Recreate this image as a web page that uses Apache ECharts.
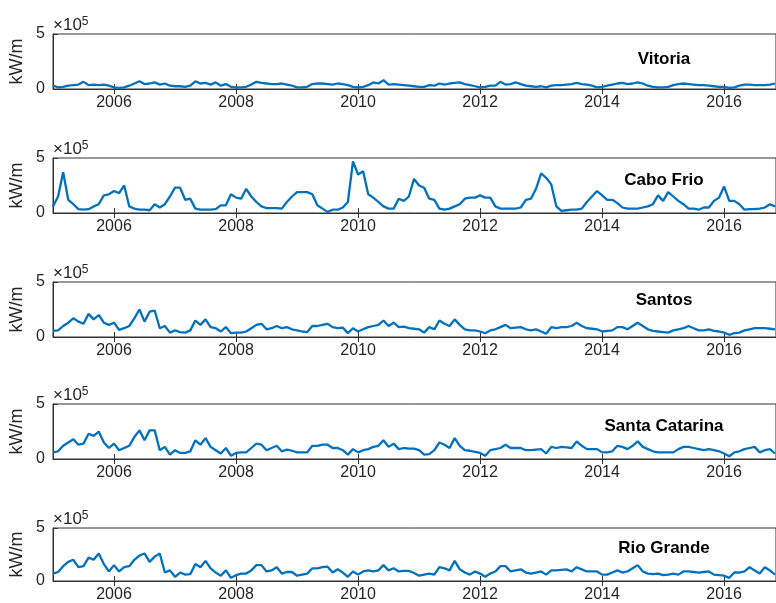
<!DOCTYPE html>
<html><head><meta charset="utf-8">
<script src="https://cdn.jsdelivr.net/npm/echarts@6/dist/echarts.min.js"></script>
<style>html,body{margin:0;padding:0;background:#fff}#c{width:776px;height:603px}</style>
</head><body><div id="c"></div>
<script>
// ---- data (values in units of 1e5 kW/m, monthly from Jan 2005) ----
const startYear = 2005;
const xTickYears = [2006, 2008, 2010, 2012, 2014, 2016];
const yTicks = [0, 5];
const yExponent = '5';
const yUnit = 'kW/m';
const stations = ['Vitoria', 'Cabo Frio', 'Santos', 'Santa Catarina', 'Rio Grande'];

const vitoria = [
  0.3,0.15,0.2,0.3,0.35,0.4,0.65,0.35,0.4,0.35,0.4,0.3,
  0.15,0.1,0.15,0.3,0.5,0.7,0.45,0.5,0.6,0.4,0.5,0.3,
  0.25,0.25,0.2,0.3,0.7,0.5,0.55,0.4,0.6,0.3,0.45,0.2,
  0.15,0.15,0.2,0.4,0.65,0.55,0.5,0.45,0.45,0.5,0.4,0.3,
  0.15,0.15,0.2,0.45,0.5,0.5,0.45,0.4,0.5,0.45,0.35,0.2,
  0.15,0.2,0.35,0.6,0.5,0.8,0.4,0.45,0.4,0.35,0.3,0.25,
  0.2,0.2,0.35,0.3,0.5,0.4,0.5,0.55,0.6,0.45,0.35,0.25,
  0.15,0.2,0.3,0.3,0.65,0.4,0.45,0.6,0.45,0.3,0.25,0.2,
  0.25,0.15,0.3,0.35,0.35,0.4,0.45,0.55,0.45,0.4,0.3,0.15,
  0.2,0.3,0.4,0.5,0.55,0.45,0.5,0.6,0.5,0.3,0.2,0.15,
  0.15,0.2,0.35,0.45,0.5,0.45,0.4,0.35,0.35,0.3,0.25,0.2,
  0.2,0.1,0.15,0.3,0.4,0.4,0.35,0.35,0.35,0.4,0.5
];
const caboFrio = [
  0.6,1.5,3.7,1.2,0.8,0.35,0.3,0.35,0.6,0.8,1.6,1.7,
  2.0,1.8,2.5,0.6,0.4,0.3,0.3,0.25,0.8,0.5,0.8,1.5,
  2.3,2.3,1.2,1.3,0.4,0.3,0.3,0.3,0.35,0.7,0.7,1.7,
  1.4,1.3,2.2,1.5,1.0,0.6,0.45,0.45,0.45,0.4,1.0,1.5,
  1.9,1.9,1.9,1.7,0.7,0.4,0.1,0.3,0.3,0.5,1.0,4.7,
  3.5,3.8,1.7,1.4,1.0,0.6,0.4,0.4,1.3,1.1,1.5,3.1,
  2.5,2.3,1.3,1.2,0.4,0.3,0.4,0.6,0.8,1.3,1.4,1.4,
  1.6,1.4,1.4,0.6,0.4,0.4,0.4,0.4,0.5,1.2,1.3,2.2,
  3.6,3.2,2.6,0.6,0.2,0.25,0.3,0.3,0.4,1.0,1.5,2.0,
  1.6,1.2,1.2,0.9,0.5,0.4,0.4,0.4,0.5,0.6,0.8,1.6,
  1.1,1.9,1.5,1.1,0.8,0.4,0.4,0.3,0.5,0.5,1.1,1.4,
  2.4,1.1,1.1,0.8,0.3,0.35,0.35,0.4,0.5,0.8,0.6
];
const santos = [
  0.55,0.6,1.0,1.3,1.7,1.4,1.2,2.1,1.6,2.0,1.3,1.1,
  1.3,0.65,0.8,1.0,1.7,2.5,1.4,2.3,2.4,0.8,1.0,0.4,
  0.6,0.45,0.4,0.6,1.5,1.1,1.6,0.9,0.8,0.5,0.9,0.35,
  0.4,0.4,0.5,0.8,1.1,1.2,0.7,0.8,1.0,0.8,0.9,0.7,
  0.6,0.5,0.45,1.0,1.0,1.1,1.2,0.9,0.8,0.85,0.35,0.8,
  0.5,0.7,0.9,1.0,1.1,1.5,1.0,1.3,0.9,0.95,0.8,0.75,
  0.7,0.4,0.9,0.7,1.5,1.2,1.0,1.6,1.1,0.7,0.6,0.6,
  0.5,0.35,0.6,0.7,0.9,1.1,0.8,0.85,0.9,0.7,0.6,0.7,
  0.5,0.3,0.9,0.8,0.9,0.9,1.0,1.3,1.0,0.8,0.75,0.7,
  0.5,0.55,0.6,0.9,0.9,0.7,1.0,1.3,1.0,0.7,0.55,0.5,
  0.45,0.4,0.6,0.7,0.8,1.0,0.8,0.6,0.6,0.7,0.55,0.5,
  0.4,0.2,0.35,0.4,0.6,0.7,0.8,0.8,0.8,0.75,0.7
];
const santaCatarina = [
  0.6,0.7,1.2,1.5,1.8,1.3,1.4,2.3,2.1,2.5,1.5,1.0,
  1.4,0.8,1.0,1.2,2.0,2.6,1.7,2.6,2.6,0.8,1.1,0.4,
  0.8,0.55,0.55,0.7,1.7,1.3,1.9,1.1,0.8,0.5,1.0,0.3,
  0.55,0.6,0.6,1.0,1.4,1.3,0.8,1.0,1.2,0.7,0.85,0.75,
  0.6,0.6,0.6,1.2,1.2,1.3,1.3,1.0,1.0,0.8,0.4,0.9,
  0.6,0.8,0.9,1.1,1.2,1.7,1.1,1.4,0.9,1.0,0.95,0.95,
  0.8,0.4,0.45,0.8,1.5,1.3,1.0,1.9,1.2,0.8,0.75,0.65,
  0.55,0.3,0.8,0.9,1.0,1.3,1.0,1.0,1.0,0.8,0.8,0.85,
  0.9,0.5,1.1,1.0,1.1,1.05,1.0,1.6,1.2,0.9,0.9,0.9,
  0.6,0.6,0.7,1.2,1.1,0.9,1.2,1.6,1.1,0.9,0.7,0.6,
  0.6,0.6,0.6,0.9,1.1,1.1,1.0,0.9,0.8,0.9,0.8,0.7,
  0.5,0.25,0.6,0.7,0.9,1.0,1.1,0.6,0.8,0.9,0.5
];
const rioGrande = [
  0.7,0.85,1.4,1.8,2.0,1.3,1.4,2.2,2.0,2.6,1.6,0.9,
  1.5,0.9,1.3,1.4,2.0,2.4,2.6,1.8,2.3,2.6,0.8,1.0,
  0.4,0.8,0.6,0.65,1.6,1.3,1.9,1.2,0.8,0.5,1.0,0.3,
  0.55,0.7,0.7,1.0,1.5,1.5,0.9,1.0,1.3,0.7,0.85,0.85,
  0.5,0.6,0.7,1.2,1.2,1.3,1.35,0.8,1.1,0.8,0.4,0.9,
  0.6,0.9,1.0,0.9,1.0,1.5,1.0,1.2,0.9,0.95,0.95,0.75,
  0.5,0.6,0.7,0.6,1.3,1.2,1.0,1.9,1.1,0.8,0.6,0.9,
  0.7,0.4,0.7,0.9,1.4,1.4,0.9,1.0,1.1,0.8,0.7,0.8,
  0.9,0.6,1.0,1.0,1.05,1.1,0.9,1.3,1.1,0.9,0.9,0.9,
  0.6,0.6,0.8,1.0,0.8,0.9,1.2,1.5,0.9,0.7,0.65,0.7,
  0.55,0.6,0.7,0.6,0.9,0.9,0.85,0.8,0.85,0.9,0.6,0.55,
  0.5,0.3,0.8,0.8,0.9,1.3,1.0,0.7,1.3,1.0,0.6
];
const seriesValues = [vitoria, caboFrio, santos, santaCatarina, rioGrande];

// ---- layout / style ----
const FONT = "'Liberation Sans', Arial, Helvetica, sans-serif";
const AX = '#333333';
const TXT = '#262626';
const LINE = '#0072BD';
const tops = [34, 158, 282, 404, 528];
const H = 55, L = 51, W = 727;
const xMin = 2005, xMax = 2016.85;

const grids = [], xAxes = [], yAxes = [], series = [], graphics = [];
const titleY = [59, 180, 300, 426, 548];

stations.forEach((name, k) => {
  grids.push({left: L, top: tops[k], width: W, height: H, show: true,
    borderColor: AX, borderWidth: 1, backgroundColor: 'rgba(0,0,0,0)'});
  xAxes.push({type: 'value', gridIndex: k, min: xMin, max: xMax, position: 'bottom',
    axisLine: {show: true, onZero: false, lineStyle: {color: AX, width: 1}},
    axisTick: {show: true, inside: true, length: 5, customValues: xTickYears, lineStyle: {color: AX}},
    axisLabel: {show: true, customValues: xTickYears, margin: 6, color: TXT,
      fontFamily: FONT, fontSize: 16, formatter: v => String(Math.round(v))},
    splitLine: {show: false}});
  xAxes.push({type: 'value', gridIndex: k, min: xMin, max: xMax, position: 'top',
    axisLine: {show: false},
    axisTick: {show: true, inside: true, length: 5, customValues: xTickYears, lineStyle: {color: AX}},
    axisLabel: {show: false, customValues: xTickYears},
    splitLine: {show: false}});
  yAxes.push({type: 'value', gridIndex: k, min: yTicks[0], max: yTicks[yTicks.length - 1],
    interval: yTicks[1] - yTicks[0],
    name: yUnit, nameLocation: 'middle', nameGap: 27, nameMoveOverlap: false,
    nameTextStyle: {color: TXT, fontFamily: FONT, fontSize: 18},
    axisLine: {show: true, lineStyle: {color: AX, width: 1}},
    axisTick: {show: true, inside: true, length: 5, lineStyle: {color: AX}},
    axisLabel: {color: TXT, fontFamily: FONT, fontSize: 16, margin: 8},
    splitLine: {show: false}});
  const vals = seriesValues[k];
  series.push({type: 'line', xAxisIndex: 2 * k, yAxisIndex: k, showSymbol: false,
    clip: true, animation: false,
    lineStyle: {color: LINE, width: 2.3}, itemStyle: {color: LINE},
    data: vals.map((v, i) => [startYear + i / 12, v])});
  graphics.push({type: 'text', x: L + 2, y: tops[k] - 9,
    style: {text: '{a|×10}{b|' + yExponent + '}', fill: TXT, verticalAlign: 'middle',
      rich: {a: {fontFamily: FONT, fontSize: 17, fill: TXT, verticalAlign: 'bottom', lineHeight: 18},
             b: {fontFamily: FONT, fontSize: 12, fill: TXT, verticalAlign: 'top', lineHeight: 18}}}});
  graphics.push({type: 'text', x: 664, y: titleY[k],
    style: {text: name, fill: '#000', fontFamily: FONT, fontSize: 17, fontWeight: 'bold',
      align: 'center', verticalAlign: 'middle'}});
});

const chart = echarts.init(document.getElementById('c'), null, {renderer: 'canvas'});
chart.setOption({
  animation: false,
  backgroundColor: '#ffffff',
  grid: grids, xAxis: xAxes, yAxis: yAxes, series: series, graphic: graphics
});
</script>
</body></html>
